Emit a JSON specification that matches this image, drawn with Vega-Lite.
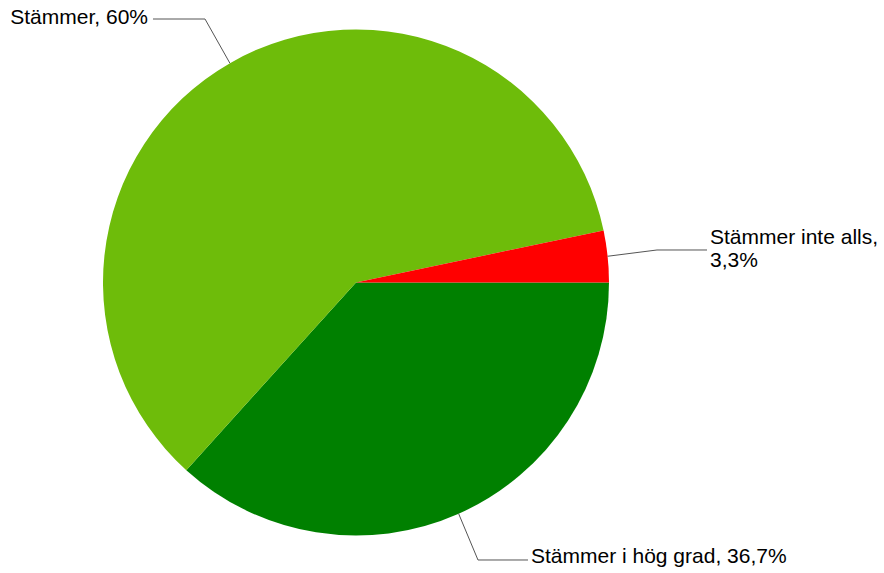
{
  "$schema": "https://vega.github.io/schema/vega-lite/v6.json",
  "width": 884,
  "height": 573,
  "autosize": {"type": "none"},
  "padding": 0,
  "background": "#ffffff",
  "config": {"view": {"stroke": null}},
  "datasets": {
    "slices": [
      {"label": "Stämmer i hög grad", "value": 36.7, "rank": 1},
      {"label": "Stämmer", "value": 60, "rank": 2},
      {"label": "Stämmer inte alls", "value": 3.3, "rank": 3}
    ],
    "leaders": [
      {"slice": "Stämmer", "pt": 1, "u": -0.4985, "v": 0.8669},
      {"slice": "Stämmer", "pt": 2, "u": -0.5968, "v": 1.0415},
      {"slice": "Stämmer", "pt": 3, "u": -0.8024, "v": 1.0415},
      {"slice": "Stämmer inte alls", "pt": 1, "u": 0.9946, "v": 0.1037},
      {"slice": "Stämmer inte alls", "pt": 2, "u": 1.1897, "v": 0.1285},
      {"slice": "Stämmer inte alls", "pt": 3, "u": 1.3874, "v": 0.1285},
      {"slice": "Stämmer i hög grad", "pt": 1, "u": 0.4058, "v": -0.914},
      {"slice": "Stämmer i hög grad", "pt": 2, "u": 0.4822, "v": -1.0968},
      {"slice": "Stämmer i hög grad", "pt": 3, "u": 0.6798, "v": -1.0968}
    ],
    "labels": [
      {"text": "Stämmer, 60%", "side": "left", "u": -0.8024, "v": 1.0415},
      {"text": "Stämmer inte alls,\n3,3%", "side": "multi", "u": 1.3874, "v": 0.1285},
      {"text": "Stämmer i hög grad, 36,7%", "side": "right", "u": 0.6798, "v": -1.0968}
    ]
  },
  "layer": [
    {
      "data": {"name": "slices"},
      "mark": {"type": "arc", "outerRadius": 253, "stroke": null},
      "encoding": {
        "x": {"datum": 0, "type": "quantitative", "scale": {"domain": [-1.40711, 2.08696], "nice": false, "zero": false}, "axis": null},
        "y": {"datum": 0, "type": "quantitative", "scale": {"domain": [-1.14822, 1.1166], "nice": false, "zero": false}, "axis": null},
        "theta": {"field": "value", "type": "quantitative", "stack": true, "scale": {"range": [1.5708, 7.854]}},
        "order": {"field": "rank", "type": "quantitative"},
        "color": {
          "field": "label", "type": "nominal", "legend": null,
          "scale": {"domain": ["Stämmer i hög grad", "Stämmer", "Stämmer inte alls"], "range": ["#008000", "#6ebc0a", "#ff0000"]}
        }
      }
    },
    {
      "data": {"name": "leaders"},
      "mark": {"type": "line", "stroke": "#555555", "strokeWidth": 1},
      "encoding": {
        "x": {"field": "u", "type": "quantitative"},
        "y": {"field": "v", "type": "quantitative"},
        "detail": {"field": "slice"},
        "order": {"field": "pt", "type": "quantitative"}
      }
    },
    {
      "data": {"name": "labels"},
      "transform": [{"filter": "datum.side == 'left'"}],
      "mark": {"type": "text", "align": "right", "baseline": "middle", "dx": -5, "dy": -1.5, "font": "Liberation Sans", "fontSize": 21, "color": "#000000"},
      "encoding": {
        "x": {"field": "u", "type": "quantitative"},
        "y": {"field": "v", "type": "quantitative"},
        "text": {"field": "text"}
      }
    },
    {
      "data": {"name": "labels"},
      "transform": [{"filter": "datum.side == 'right'"}],
      "mark": {"type": "text", "align": "left", "baseline": "middle", "dx": 3, "dy": -2.5, "font": "Liberation Sans", "fontSize": 21, "color": "#000000"},
      "encoding": {
        "x": {"field": "u", "type": "quantitative"},
        "y": {"field": "v", "type": "quantitative"},
        "text": {"field": "text"}
      }
    },
    {
      "data": {"name": "labels"},
      "transform": [{"filter": "datum.side == 'multi'"}],
      "mark": {"type": "text", "align": "left", "baseline": "middle", "dx": 3, "dy": -12, "lineBreak": "\n", "lineHeight": 23.5, "font": "Liberation Sans", "fontSize": 21, "color": "#000000"},
      "encoding": {
        "x": {"field": "u", "type": "quantitative"},
        "y": {"field": "v", "type": "quantitative"},
        "text": {"field": "text"}
      }
    }
  ]
}
